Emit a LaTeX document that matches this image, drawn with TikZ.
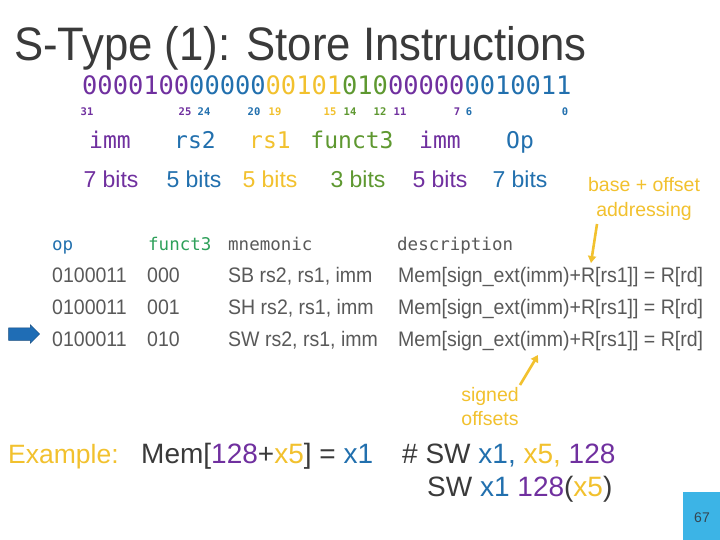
\documentclass[tikz,border=0pt]{standalone}
\usepackage{fontspec}
\setmainfont{Liberation Sans}
\newfontfamily\monofont{DejaVu Sans Mono}
\newfontfamily\narrowfont[FakeStretch=0.93]{Liberation Sans}
\usetikzlibrary{arrows.meta,shapes.arrows}
\definecolor{stPurple}{HTML}{70309F}
\definecolor{stBlue}{HTML}{2270AE}
\definecolor{stGold}{HTML}{F2C12E}
\definecolor{stGreen}{HTML}{5E9830}
\definecolor{stMint}{HTML}{2EA05A}
\definecolor{stDark}{HTML}{3A3A3A}
\definecolor{stGray}{HTML}{595959}
\definecolor{stCyan}{HTML}{3CB4E6}
\definecolor{stArrow}{HTML}{1F6DB5}

\begin{document}
\begin{tikzpicture}[x=1pt,y=-1pt,
    txt/.style={inner sep=0pt,anchor=base west},
    ctxt/.style={inner sep=0pt,anchor=base},
    bitstr/.style={txt,font=\monofont\fontsize{25.4}{28}\selectfont},
    bitpos/.style={ctxt,font=\monofont\bfseries\fontsize{10.5}{12}\selectfont},
    field/.style={ctxt,font=\monofont\fontsize{23}{26}\selectfont},
    width/.style={ctxt,font=\fontsize{23}{26}\selectfont},
    thead/.style={txt,font=\monofont\fontsize{17.5}{20}\selectfont,text=stGray},
    tcell/.style={txt,font=\narrowfont\fontsize{21}{24}\selectfont,text=stGray},
    note/.style={ctxt,font=\fontsize{19.5}{22}\selectfont,text=stGold},
    big/.style={txt,font=\fontsize{28}{32}\selectfont,text=stDark},
    notearrow/.style={draw=stGold,line width=2.6pt,
                      -{Triangle[width=8pt,length=7pt]}}]

  \useasboundingbox[fill=white] (0,0) rectangle (720,540);

  \node[txt,font=\narrowfont\fontsize{47}{52}\selectfont,text=stDark] (title)
    at (14,61) {S-Type (1): Store Instructions};

  % encoding of SW x1, 128(x5)
  \node[bitstr] (enc) at (82,95) {%
    {\color{stPurple}0000100}{\color{stBlue}00000}{\color{stGold}00101}%
    {\color{stGreen}010}{\color{stPurple}00000}{\color{stBlue}0010011}};

  \node[bitpos,text=stPurple] (b31) at (87,116) {31};
  \node[bitpos,text=stPurple] (b25) at (185,116) {25};
  \node[bitpos,text=stBlue]   (b24) at (204,116) {24};
  \node[bitpos,text=stBlue]   (b20) at (254,116) {20};
  \node[bitpos,text=stGold]   (b19) at (275,116) {19};
  \node[bitpos,text=stGold]   (b15) at (330,116) {15};
  \node[bitpos,text=stGreen]  (b14) at (350,116) {14};
  \node[bitpos,text=stGreen]  (b12) at (380,116) {12};
  \node[bitpos,text=stPurple] (b11) at (400,116) {11};
  \node[bitpos,text=stPurple] (b7)  at (457,116) {7};
  \node[bitpos,text=stBlue]   (b6)  at (469,116) {6};
  \node[bitpos,text=stBlue]   (b0)  at (565,116) {0};

  \node[field,text=stPurple] (fimmhi) at (110,149) {imm};
  \node[field,text=stBlue]   (frs2)   at (195,149) {rs2};
  \node[field,text=stGold]   (frs1)   at (270,149) {rs1};
  \node[field,text=stGreen]  (ffun)   at (352,149) {funct3};
  \node[field,text=stPurple] (fimmlo) at (440,149) {imm};
  \node[field,text=stBlue]   (fop)    at (520,149) {Op};

  \node[width,text=stPurple] (wimmhi) at (111,188) {7 bits};
  \node[width,text=stBlue]   (wrs2)   at (194,188) {5 bits};
  \node[width,text=stGold]   (wrs1)   at (270,188) {5 bits};
  \node[width,text=stGreen]  (wfun)   at (358,188) {3 bits};
  \node[width,text=stPurple] (wimmlo) at (440,188) {5 bits};
  \node[width,text=stBlue]   (wop)    at (520,188) {7 bits};

  \node[note] (base) at (644,192) {base + offset};
  \node[note] (addr) at (644,216) {addressing};

  % table
  \node[thead,text=stBlue]  (hop)   at (52,250)  {op};
  \node[thead,text=stMint]  (hfun)  at (148,250) {funct3};
  \node[thead]              (hmne)  at (228,250) {mnemonic};
  \node[thead]              (hdesc) at (397,250) {description};

  \node[tcell] (op1)   at (52,282)  {0100011};
  \node[tcell] (fun1)  at (147,282) {000};
  \node[tcell] (mne1)  at (228,282) {SB rs2, rs1, imm};
  \node[tcell] (desc1) at (398,282) {Mem[sign\_ext(imm)+R[rs1]] = R[rd]};
  \node[tcell] (op2)   at (52,314)  {0100011};
  \node[tcell] (fun2)  at (147,314) {001};
  \node[tcell] (mne2)  at (228,314) {SH rs2, rs1, imm};
  \node[tcell] (desc2) at (398,314) {Mem[sign\_ext(imm)+R[rs1]] = R[rd]};
  \node[tcell] (op3)   at (52,346)  {0100011};
  \node[tcell] (fun3)  at (147,346) {010};
  \node[tcell] (mne3)  at (228,346) {SW rs2, rs1, imm};
  \node[tcell] (desc3) at (398,346) {Mem[sign\_ext(imm)+R[rs1]] = R[rd]};

  \node[single arrow,fill=stArrow,draw=stArrow!70!black,line width=0.5pt,
        minimum height=31pt,minimum width=18pt,single arrow head extend=3pt,
        inner sep=6pt] (cur) at (21,334) {};

  \coordinate (rsOne) at (591,263);
  \coordinate (addrTail) at (597,224);
  \draw[notearrow] (addrTail) -- (rsOne);

  \node[note] (sig) at (490,401) {signed};
  \node[note] (offs) at (490,425) {offsets};
  \coordinate (immPos) at (538,355);
  \coordinate (sigTail) at (520,385);
  \draw[notearrow] (sigTail) -- (immPos);

  % example
  \node[big,font=\fontsize{26.5}{30}\selectfont,text=stGold] (ex) at (8,463)
    {Example:};
  \node[big] (exmem) at (141,463) {Mem[{\color{stPurple}128}+{\color{stGold}x5}] =
    {\color{stBlue}x1}};
  \node[big] (asm1) at (402,463) {\# SW {\color{stBlue}x1,}
    {\color{stGold}x5,} {\color{stPurple}128}};
  \node[big] (asm2) at (427,496) {SW {\color{stBlue}x1}
    {\color{stPurple}128}({\color{stGold}x5})};

  \node[fill=stCyan,minimum width=37pt,minimum height=48pt,inner sep=0pt,
        anchor=north west] (pg) at (683,492) {};
  \node[ctxt,font=\fontsize{14}{16}\selectfont,text=stDark!80!stBlue] (pgnum)
    at (702,522) {67};
\end{tikzpicture}
\end{document}
